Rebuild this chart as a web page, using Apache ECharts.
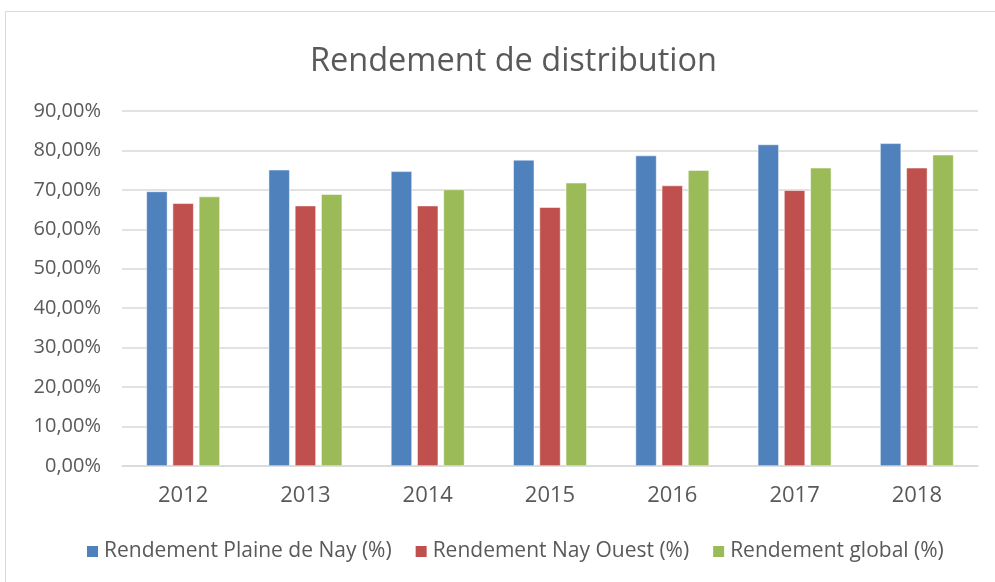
<!DOCTYPE html>
<html>
<head>
<meta charset="utf-8">
<script src="https://cdn.jsdelivr.net/npm/echarts@6/dist/echarts.min.js"></script>
<style>
  html, body { margin: 0; padding: 0; background: #fff; }
  #chart { width: 995px; height: 582px; }
</style>
</head>
<body>
<div id="chart"></div>
<script>
  // données
  const years = ['2012', '2013', '2014', '2015', '2016', '2017', '2018']
  const plaineDeNay = [69.6, 75.1, 74.7, 77.6, 78.7, 81.5, 81.8]
  const nayOuest = [66.6, 66.0, 66.0, 65.6, 71.1, 69.9, 75.6]
  const global = [68.3, 68.9, 70.1, 71.8, 75.0, 75.6, 78.9]
  const seriesNames = ['Rendement Plaine de Nay (%)', 'Rendement Nay Ouest (%)', 'Rendement global (%)']

  const textColor = '#595959'
  const font = 'Open Sans'

  const chart = echarts.init(document.getElementById('chart'))

  const fmt = v => v.toFixed(2).replace('.', ',') + '%'

  chart.setOption({
    animation: false,
    color: ['#4f81bd', '#c0504d', '#9bbb59'],
    graphic: [{
      type: 'rect',
      shape: { x: 5.5, y: 11.5, width: 1000, height: 600 },
      style: { fill: 'none', stroke: '#d9d9d9', lineWidth: 1 }
    }],
    title: {
      text: 'Rendement de distribution',
      left: 305,
      top: 40,
      textStyle: {
        color: textColor,
        fontFamily: font,
        fontWeight: 'normal',
        fontSize: 32.5
      }
    },
    grid: {
      left: 122,
      right: 17,
      top: 111,
      bottom: 116,
      containLabel: false
    },
    legend: {
      data: seriesNames,
      bottom: 15,
      left: 80,
      itemWidth: 13,
      itemHeight: 13,
      itemGap: 22,
      icon: 'rect',
      textStyle: {
        color: textColor,
        fontFamily: font,
        fontSize: 21
      }
    },
    xAxis: {
      type: 'category',
      data: years,
      axisTick: { show: false },
      axisLine: { lineStyle: { color: '#d9d9d9', width: 1.5 } },
      axisLabel: {
        color: textColor,
        fontFamily: font,
        fontSize: 22,
        margin: 19
      }
    },
    yAxis: {
      type: 'value',
      min: 0,
      max: 90,
      interval: 10,
      axisLine: { show: false },
      axisTick: { show: false },
      splitLine: { lineStyle: { color: '#d9d9d9', width: 1.5 } },
      axisLabel: {
        color: textColor,
        fontFamily: font,
        fontSize: 20,
        margin: 21,
        formatter: fmt
      }
    },
    series: [
      { name: seriesNames[0], type: 'bar', data: plaineDeNay, barWidth: 21, barGap: '25%' },
      { name: seriesNames[1], type: 'bar', data: nayOuest, barWidth: 21, barGap: '25%' },
      { name: seriesNames[2], type: 'bar', data: global, barWidth: 21, barGap: '25%' }
    ].map(s => Object.assign(s, { itemStyle: { borderColor: '#fff', borderWidth: 0.5 } }))
  })
</script>
</body>
</html>
